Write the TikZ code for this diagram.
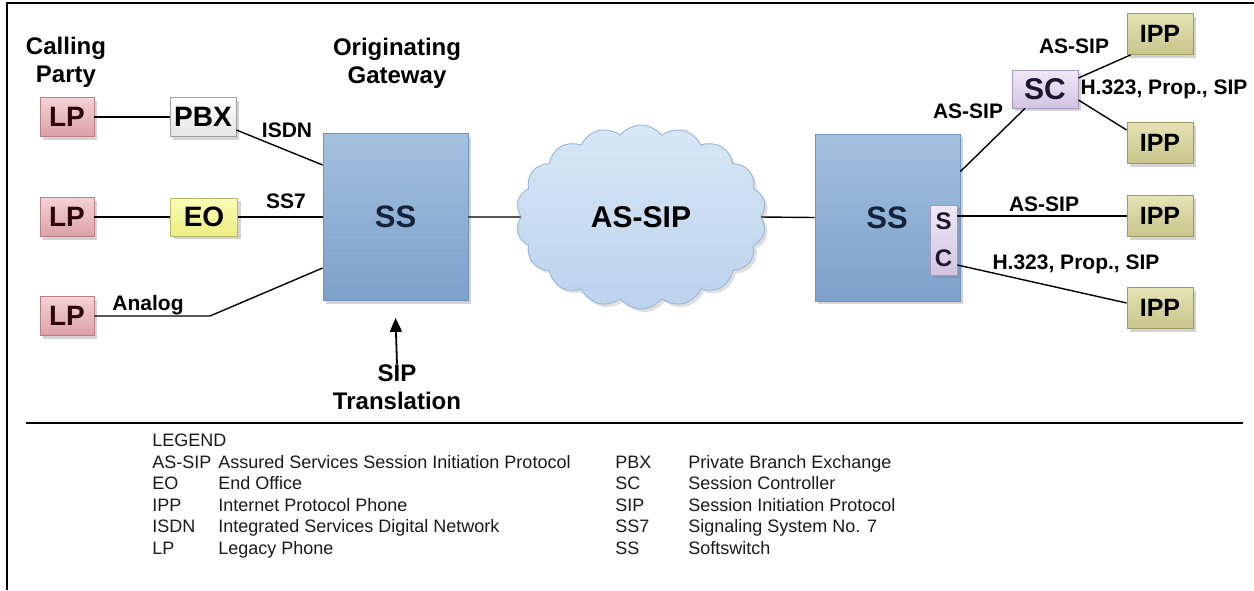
\documentclass[tikz,border=0pt]{standalone}
\usepackage{fontspec}
\setmainfont{Liberation Sans}
\usetikzlibrary{shapes.symbols,shadows,arrows.meta,calc}
\definecolor{lpTop}{HTML}{F4D2D5}
\definecolor{lpBot}{HTML}{DCA0A7}
\definecolor{lpBorder}{HTML}{B98088}
\definecolor{lpText}{HTML}{2A0808}
\definecolor{pbxTop}{HTML}{FFFFFF}
\definecolor{pbxBot}{HTML}{E4E4E4}
\definecolor{pbxBorder}{HTML}{A0A0A0}
\definecolor{eoTop}{HTML}{FBFBB8}
\definecolor{eoBot}{HTML}{EDED82}
\definecolor{eoBorder}{HTML}{B8B865}
\definecolor{ssTop}{HTML}{A3C0DF}
\definecolor{ssBot}{HTML}{7CA1CA}
\definecolor{ssBorder}{HTML}{6E93BC}
\definecolor{ssText}{HTML}{14233A}
\definecolor{cloudTop}{HTML}{D8E7F6}
\definecolor{cloudBot}{HTML}{BCD3EC}
\definecolor{cloudBorder}{HTML}{9DBADB}
\definecolor{scTop}{HTML}{F0E9F7}
\definecolor{scBot}{HTML}{D2C4E1}
\definecolor{scBorder}{HTML}{A898BE}
\definecolor{scText}{HTML}{1C1630}
\definecolor{ippTop}{HTML}{E6E3B6}
\definecolor{ippBot}{HTML}{C9C48A}
\definecolor{ippBorder}{HTML}{9E9A66}
\definecolor{legendText}{HTML}{1A1A1A}
\begin{document}
\begin{tikzpicture}[x=0.5pt,y=-0.5pt,
  boxbase/.style={draw, line width=0.4pt, inner sep=0pt,
    drop shadow={opacity=0.35,shadow xshift=1.5pt,shadow yshift=-1.5pt},
    font=\fontsize{14}{16}\selectfont\bfseries},
  lpbox/.style={boxbase, top color=lpTop, bottom color=lpBot, draw=lpBorder, text=lpText,
    minimum width=27pt, minimum height=19.5pt},
  pbxbox/.style={boxbase, top color=pbxTop, bottom color=pbxBot, draw=pbxBorder,
    minimum width=33pt, minimum height=19.5pt},
  eobox/.style={boxbase, top color=eoTop, bottom color=eoBot, draw=eoBorder,
    minimum width=33.5pt, minimum height=19pt},
  ssbox/.style={boxbase, top color=ssTop, bottom color=ssBot, draw=ssBorder, text=ssText,
    minimum width=72.5pt, minimum height=83.5pt, font=\fontsize{15.5}{18}\selectfont\bfseries},
  scbox/.style={boxbase, top color=scTop, bottom color=scBot, draw=scBorder, text=scText,
    minimum width=33pt, minimum height=19pt, font=\fontsize{15}{17}\selectfont\bfseries},
  scsmall/.style={boxbase, top color=scTop, bottom color=scBot, draw=scBorder, text=scText,
    minimum width=13.5pt, minimum height=35pt, align=center,
    font=\fontsize{12}{18.5}\selectfont\bfseries},
  ippbox/.style={boxbase, top color=ippTop, bottom color=ippBot, draw=ippBorder,
    minimum width=33pt, minimum height=20.5pt, font=\fontsize{12.5}{15}\selectfont\bfseries},
  cloudnode/.style={cloud, cloud puffs=18, cloud puff arc=105, aspect=1.37,
    top color=cloudTop, bottom color=cloudBot, draw=cloudBorder, line width=0.5pt,
    minimum width=125pt, minimum height=92pt, inner sep=0pt,
    drop shadow={opacity=0.25,shadow xshift=1.5pt,shadow yshift=-1.5pt},
    font=\fontsize{15}{18}\selectfont\bfseries},
  heading/.style={align=center, font=\fontsize{12}{14}\selectfont\bfseries, inner sep=0pt},
  linelabel/.style={font=\fontsize{10.5}{12}\selectfont\bfseries, inner sep=0pt},
  legend/.style={anchor=base west, inner sep=0pt, text=legendText, font=\fontsize{9}{11}\selectfont},
  conn/.style={line width=0.7pt}
]
\useasboundingbox (0,0) rectangle (1254,590);
% frame
\draw[line width=1.4pt] (7,590) -- (7,3) -- (1254,3);
\draw[line width=1pt] (26,423) -- (1243,423);

% headings
\node[heading] (calling) at (66,62) {Calling\\Party};
\node[heading] (orig) at (397,63) {Originating\\Gateway};

% left nodes
\node[lpbox] (lp1) at (67,117) {LP};
\node[pbxbox] (pbx) at (203,117) {PBX};
\node[lpbox] (lp2) at (67,217) {LP};
\node[eobox] (eo) at (204,217) {EO};
\node[lpbox] (lp3) at (67,316) {LP};
\node[ssbox] (ssl) at (395.5,217) {SS};
\node[cloudnode] (cloud) at (641,217) {AS-SIP};
\node[ssbox] (ssr) at (887.5,217.5) {};
\node[font=\fontsize{15.5}{18}\selectfont\bfseries, text=ssText, inner sep=0pt] (ssrtext) at (887,218) {SS};
\node[scsmall] (scs) at (943.5,240) {S\\C};
\node[scbox] (sct) at (1045,89) {SC};
\node[ippbox] (ipp1) at (1160,34) {IPP};
\node[ippbox] (ipp2) at (1160,143) {IPP};
\node[ippbox] (ipp3) at (1160,216) {IPP};
\node[ippbox] (ipp4) at (1160,308) {IPP};

% left connectors
\draw[conn] (lp1.east) -- (pbx.west);
\draw[conn] ($(pbx.east)+(0,13)$) -- ($(ssl.west)+(0,-52)$);
\draw[conn] (lp2.east) -- (eo.west);
\draw[conn] (eo.east) -- (ssl.west);
\coordinate (bend) at (210,316);
\draw[conn] (lp3.east) -- (bend) -- ($(ssl.west)+(0,51)$);
\draw[conn] (ssl.east) -- (cloud.west);
\draw[conn] (cloud.east) -- (ssr.west);

% right connectors
\draw[conn] ($(ssr.east)+(0,-46)$) -- ($(sct.south)+(-20,0)$);
\draw[conn] ($(sct.east)+(0,-11)$) -- ($(ipp1.south west)+(4,0)$);
\draw[conn] ($(sct.east)+(0,11)$) -- ($(ipp2.west)+(0,-13)$);
\draw[conn] (scs.east |- ipp3.west) -- (ipp3.west);
\draw[conn] ($(scs.east)+(0,25)$) -- ($(ipp4.west)+(0,-5)$);

% line labels
\node[linelabel] (lisdn) at (287,130) {ISDN};
\node[linelabel] (lss7) at (286,201) {SS7};
\node[linelabel] (lanalog) at (148,305) {Analog};
\node[linelabel] (las1) at (1074,46) {AS-SIP};
\node[linelabel] (las2) at (968,111) {AS-SIP};
\node[linelabel] (lh1) at (1164,89) {H.323, Prop., SIP};
\node[linelabel] (las3) at (1044,204) {AS-SIP};
\node[linelabel] (lh2) at (1076,264) {H.323, Prop., SIP};

% SIP translation
\node[heading, anchor=north] (sip) at (397,364) {SIP\\Translation};
\draw[line width=0.9pt, -{Triangle[length=7pt,width=6pt]}] (sip.north) -- ($(ssl.south)+(0,17)$);

% legend
\node[legend] (lg) at (152,446.5) {LEGEND};
\node[legend] (a1) at (152,468) {AS-SIP};
\node[legend] (d1) at (218,468) {Assured Services Session Initiation Protocol};
\node[legend] (a2) at (152,489.5) {EO};
\node[legend] (d2) at (218,489.5) {End Office};
\node[legend] (a3) at (152,511) {IPP};
\node[legend] (d3) at (218,511) {Internet Protocol Phone};
\node[legend] (a4) at (152,532.5) {ISDN};
\node[legend] (d4) at (218,532.5) {Integrated Services Digital Network};
\node[legend] (a5) at (152,554) {LP};
\node[legend] (d5) at (218,554) {Legacy Phone};
\node[legend] (b1) at (615,468) {PBX};
\node[legend] (e1) at (688,468) {Private Branch Exchange};
\node[legend] (b2) at (615,489.5) {SC};
\node[legend] (e2) at (688,489.5) {Session Controller};
\node[legend] (b3) at (615,511) {SIP};
\node[legend] (e3) at (688,511) {Session Initiation Protocol};
\node[legend] (b4) at (615,532.5) {SS7};
\node[legend] (e4) at (688,532.5) {Signaling System No. 7};
\node[legend] (b5) at (615,554) {SS};
\node[legend] (e5) at (688,554) {Softswitch};
\end{tikzpicture}
\end{document}
